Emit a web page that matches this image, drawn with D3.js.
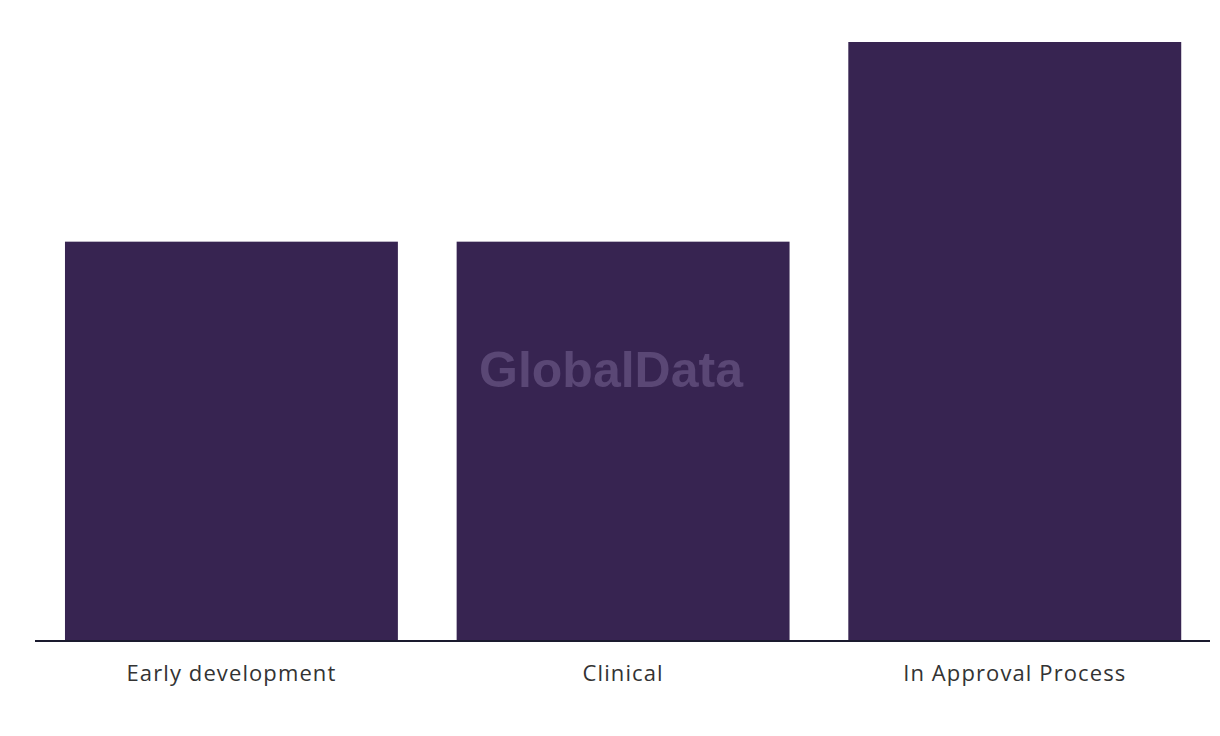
<!DOCTYPE html>
<html><head><meta charset="utf-8">
<script src="https://cdn.jsdelivr.net/npm/d3@7"></script>
<style>body{margin:0;background:#fff}svg{display:block}</style>
</head><body>
<svg id="chart" width="1220" height="736"></svg>
<script>
const categories = ["Early development", "Clinical", "In Approval Process"];
const values = [2, 2, 3];

const svg = d3.select("#chart");
const x = d3.scaleBand().domain(categories).range([35.6, 1210.6]).paddingInner(0.15).paddingOuter(0.075);
const y = d3.scaleLinear().domain([0, 3]).range([641, 42]);

svg.selectAll("rect.bar").data(categories).join("rect")
  .attr("class", "bar")
  .attr("x", d => x(d))
  .attr("width", x.bandwidth())
  .attr("y", (d, i) => y(values[i]))
  .attr("height", (d, i) => y(0) - y(values[i]))
  .attr("fill", "#372451");

const axis = svg.append("g").attr("transform", "translate(0,641)")
  .call(d3.axisBottom(x).tickSize(0).tickPadding(24));
axis.select(".domain").attr("stroke", "#1a1a2e").attr("stroke-width", 2).attr("d", "M35,0H1210");
axis.selectAll("text").attr("font-family", "'Open Sans', Roboto, sans-serif")
  .attr("font-size", 22).attr("letter-spacing", "1.1px").attr("fill", "#333333");

svg.append("text").attr("x", 611).attr("y", 387).attr("text-anchor", "middle")
  .attr("font-family", "'Liberation Sans', Arial, sans-serif").attr("font-weight", "bold")
  .attr("font-size", 50).attr("fill", "#5a4775").text("GlobalData");
</script>
</body></html>
